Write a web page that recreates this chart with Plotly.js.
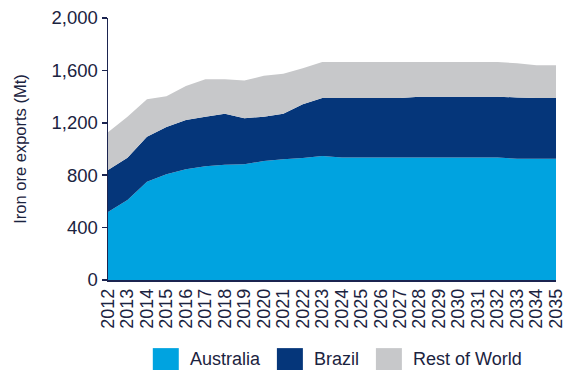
<!DOCTYPE html>
<html>
<head>
<meta charset="utf-8">
<script src="https://cdn.plot.ly/plotly-3.0.1.min.js"></script>
<style>
html,body{margin:0;padding:0;background:#fff;}
#chart{width:567px;height:370px;}
</style>
</head>
<body>
<div id="chart"></div>
<script>
const years = [2012,2013,2014,2015,2016,2017,2018,2019,2020,2021,2022,2023,2024,2025,2026,2027,2028,2029,2030,2031,2032,2033,2034,2035];
const australia = [519,611,750,807,845,868,880,883,908,921,931,947,935,935,935,935,935,935,935,935,935,925,925,925];
const brazil =    [321,323,344,361,376,379,390,351,339,349,410,442,454,454,454,454,464,464,464,464,464,469,464,464];
const restOfWorld=[287,313,285,234,260,285,262,288,313,305,275,275,275,275,275,275,265,265,265,265,265,260,250,250];
const seriesNames = ['Australia','Brazil','Rest of World'];
const seriesColors = ['#00A3E0','#05367A','#C7C8CA'];
const yTicks = [0,400,800,1200,1600,2000];

const textColor = '#1B2340';
const axisColor = '#1B2450';
const seriesData = [australia, brazil, restOfWorld];

const traces = seriesData.map((vals,i)=>({
  x: years, y: vals, name: seriesNames[i], type:'scatter', mode:'none',
  stackgroup:'one', fillcolor: seriesColors[i], line:{width:0},
  hoverinfo:'x+y+name', showlegend:false
}));

// Custom legend (swatches + labels), positioned in paper coordinates
const legX = [0.100, 0.377, 0.598];
const swW = 0.058;
const shapes = seriesNames.map((n,i)=>({
  type:'rect', xref:'paper', yref:'paper',
  x0: legX[i], x1: legX[i]+swW, y0:-0.345, y1:-0.26,
  fillcolor: seriesColors[i], line:{width:0}
}));
const annotations = seriesNames.map((n,i)=>({
  xref:'paper', yref:'paper', x: legX[i]+swW+0.02, y:-0.302,
  xanchor:'left', yanchor:'middle', text:n, showarrow:false,
  font:{family:'Liberation Sans, Arial, sans-serif', size:18, color:textColor}
}));

const layout = {
  width:567, height:370,
  margin:{l:108, r:11, t:18, b:90},
  paper_bgcolor:'#fff', plot_bgcolor:'#fff',
  font:{family:'Liberation Sans, Arial, sans-serif', size:18, color:textColor},
  showlegend:false,
  xaxis:{
    range:[2012,2035], tickmode:'array', tickvals:years, ticktext:years.map(String),
    tickangle:-90, showgrid:false, zeroline:false,
    showline:true, linecolor:axisColor, linewidth:1.5, ticks:'',
    ticklabeloverflow:'allow',
    tickfont:{size:18, color:textColor}, fixedrange:true
  },
  yaxis:{
    range:[0,2000], tickmode:'array', tickvals:yTicks, ticktext:yTicks.map(v=>v.toLocaleString('en-US')),
    showgrid:false, zeroline:false, showline:true, linecolor:axisColor, linewidth:1.5,
    ticks:'outside', ticklen:5, tickcolor:axisColor, tickwidth:1.5,
    ticklabeloverflow:'allow',
    tickfont:{size:18.5, color:textColor},
    title:{text:'Iron ore exports (Mt)', font:{size:16.5, color:textColor}, standoff:20},
    fixedrange:true
  },
  shapes: shapes,
  annotations: annotations
};

Plotly.newPlot('chart', traces, layout, {staticPlot:true, displayModeBar:false});
</script>
</body>
</html>
